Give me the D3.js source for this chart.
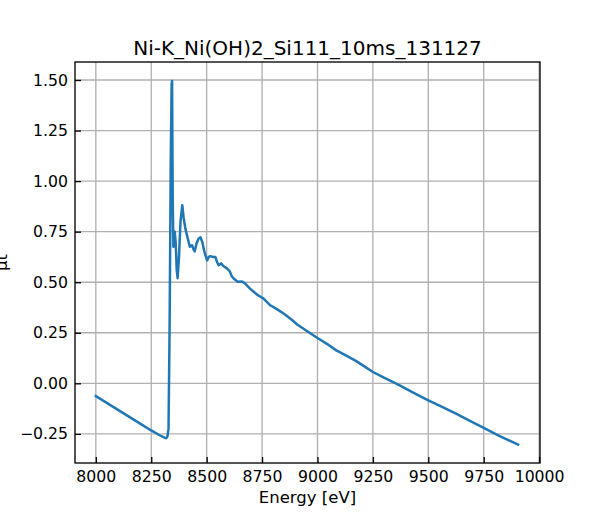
<!DOCTYPE html>
<html>
<head>
<meta charset="utf-8">
<script src="https://cdn.jsdelivr.net/npm/d3@7"></script>
<style>
  html, body { margin: 0; padding: 0; background: #fff; }
  svg { display: block; }
  svg text { font-family: "DejaVu Sans", sans-serif; }
</style>
</head>
<body>
<svg id="chart" width="600" height="520"></svg>
<script>
const title = "Ni-K_Ni(OH)2_Si111_10ms_131127";
const xLabel = "Energy [eV]";
const yLabel = "μt";
const xTicks = [8000, 8250, 8500, 8750, 9000, 9250, 9500, 9750, 10000];
const yTicks = [-0.25, 0.00, 0.25, 0.50, 0.75, 1.00, 1.25, 1.50];

const energy = [8000, 8100, 8200, 8250, 8290, 8312, 8318, 8323, 8328, 8333, 8338, 8342, 8344,
  8347, 8350, 8353, 8356, 8360, 8365, 8369, 8375, 8382, 8390, 8396, 8404, 8414, 8424, 8434,
  8440, 8446, 8454, 8463, 8472, 8480, 8490, 8502, 8510, 8517, 8530, 8539, 8547, 8554, 8565,
  8575, 8590, 8604, 8613, 8622, 8640, 8660, 8672, 8690, 8704, 8730, 8757, 8787, 8817, 8847,
  8880, 8910, 8959, 9000, 9050, 9085, 9130, 9175, 9210, 9250, 9300, 9371, 9430, 9500, 9560,
  9625, 9690, 9750, 9820, 9905];
const mu = [-0.063, -0.131, -0.199, -0.233, -0.258, -0.270, -0.271, -0.262, -0.225, 0.30, 1.10, 1.48, 1.495,
  0.90, 0.675, 0.70, 0.749, 0.70, 0.56, 0.52, 0.62, 0.80, 0.881, 0.82, 0.765, 0.72, 0.675, 0.683,
  0.665, 0.652, 0.69, 0.715, 0.722, 0.70, 0.65, 0.608, 0.625, 0.629, 0.625, 0.625, 0.60, 0.584, 0.593,
  0.58, 0.57, 0.555, 0.53, 0.518, 0.502, 0.503, 0.495, 0.475, 0.46, 0.437, 0.419, 0.386, 0.367, 0.345,
  0.318, 0.29, 0.254, 0.224, 0.19, 0.163, 0.137, 0.11, 0.085, 0.056, 0.028, -0.01, -0.045, -0.084, -0.115,
  -0.15, -0.187, -0.22, -0.26, -0.303];

const svg = d3.select("#chart");
const L = 75, R = 540, T = 62, B = 463;

const x = d3.scaleLinear().domain([7906, 10004]).range([L, R]);
const y = d3.scaleLinear().domain([-0.394, 1.589]).range([B, T]);

const fmtY = v => d3.format(".2f")(v).replace("-", "\u2212");

// grid
const grid = svg.append("g");
grid.selectAll("line.gx").data(xTicks).enter().append("line")
  .attr("x1", d => x(d)).attr("x2", d => x(d)).attr("y1", T).attr("y2", B)
  .attr("stroke", "#b0b0b0").attr("stroke-width", 1.33);
grid.selectAll("line.gy").data(yTicks).enter().append("line")
  .attr("x1", L).attr("x2", R).attr("y1", d => y(d)).attr("y2", d => y(d))
  .attr("stroke", "#b0b0b0").attr("stroke-width", 1.33);

// data line
const pts = energy.map((e, i) => [e, mu[i]]);
svg.append("path").datum(pts)
  .attr("fill", "none").attr("stroke", "#1f77b4").attr("stroke-width", 2.5)
  .attr("stroke-linejoin", "round").attr("stroke-linecap", "square")
  .attr("d", d3.line().x(d => x(d[0])).y(d => y(d[1])));

// axes (inward ticks)
const xAxis = d3.axisBottom(x).tickValues(xTicks).tickSize(-6).tickPadding(8).tickFormat(d3.format("d"));
const yAxis = d3.axisLeft(y).tickValues(yTicks).tickSize(-6).tickPadding(7).tickFormat(fmtY);

const gx = svg.append("g").attr("transform", `translate(0,${B})`).call(xAxis);
const gy = svg.append("g").attr("transform", `translate(${L},0)`).call(yAxis);
[gx, gy].forEach(g => {
  g.select(".domain").remove();
  g.selectAll(".tick line").attr("stroke", "#000").attr("stroke-width", 1.33);
  g.selectAll(".tick text").attr("font-size", 15.7).attr("fill", "#000");
});

// frame
svg.append("rect").attr("x", L).attr("y", T).attr("width", R - L).attr("height", B - T)
  .attr("fill", "none").attr("stroke", "#000").attr("stroke-width", 1.33);

// labels
svg.append("text").attr("x", (L + R) / 2).attr("y", 55).attr("text-anchor", "middle")
  .attr("font-size", 20).attr("fill", "#000").text(title);
svg.append("text").attr("x", (L + R) / 2).attr("y", 503).attr("text-anchor", "middle")
  .attr("font-size", 16.5).attr("fill", "#000").text(xLabel);
svg.append("text").attr("transform", `translate(7,${(T + B) / 2}) rotate(-90)`).attr("text-anchor", "middle")
  .attr("font-size", 16.5).attr("fill", "#000").text(yLabel);
</script>
</body>
</html>
